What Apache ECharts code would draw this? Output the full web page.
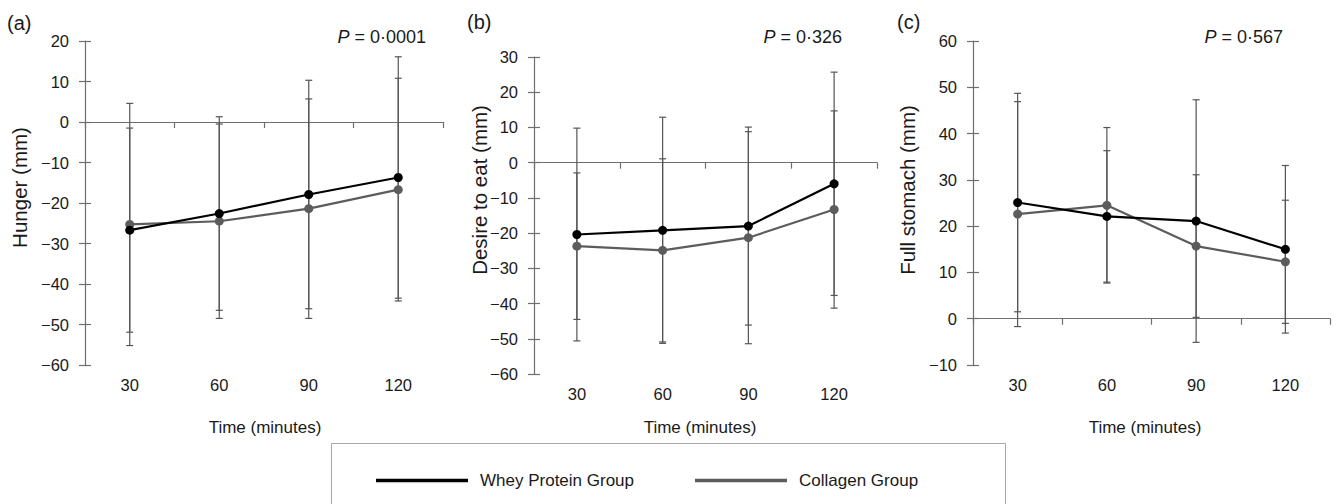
<!DOCTYPE html>
<html>
<head>
<meta charset="utf-8">
<style>
  html, body { margin: 0; padding: 0; background: #ffffff; }
  #chart { width: 1336px; height: 504px; }
</style>
<script src="https://cdn.jsdelivr.net/npm/echarts@6/dist/echarts.min.js"></script>
</head>
<body>
<div id="chart"></div>
<script>
// ---- data ----
const categories = ['30', '60', '90', '120'];

const hungerWhey = [-26.7, -22.6, -17.9, -13.7];
const hungerWheySD = [25.2, 23.9, 28.2, 29.8];
const hungerCollagen = [-25.3, -24.5, -21.4, -16.7];
const hungerCollagenSD = [29.9, 24.0, 27.1, 27.5];

const desireWhey = [-20.4, -19.2, -18.0, -6.0];
const desireWheySD = [30.2, 32.1, 28.1, 31.7];
const desireCollagen = [-23.7, -24.9, -21.3, -13.3];
const desireCollagenSD = [20.8, 26.0, 30.1, 28.0];

const fullWhey = [25.1, 22.1, 21.1, 15.0];
const fullWheySD = [23.6, 14.2, 26.2, 18.1];
const fullCollagen = [22.6, 24.5, 15.7, 12.3];
const fullCollagenSD = [24.3, 16.8, 15.4, 13.3];

const seriesNames = ['Whey Protein Group', 'Collagen Group'];
const panelLetters = ['(a)', '(b)', '(c)'];
const pValues = ['0·0001', '0·326', '0·567'];
const yNames = ['Hunger (mm)', 'Desire to eat (mm)', 'Full stomach (mm)'];
const xName = 'Time (minutes)';
const yRanges = [[-60, 20], [-60, 30], [-10, 60]];

// ---- styles ----
const FONT = "'Liberation Sans', Arial, Helvetica, sans-serif";
const TXT = '#1a1a1a';
const AXIS = '#6e6e6e';
const WHEY = '#000000';
const COLL = '#5c5c5c';
const ERR = '#555555';

const panels = [
  { whey: hungerWhey, wsd: hungerWheySD, coll: hungerCollagen, csd: hungerCollagenSD,
    grid: { left: 85, top: 41, width: 358, height: 324 }, yName: [19, 187.5], letter: [7, 23], pRight: 426, timeX: 265 },
  { whey: desireWhey, wsd: desireWheySD, coll: desireCollagen, csd: desireCollagenSD,
    grid: { left: 534, top: 57, width: 343, height: 317 }, yName: [479, 190], letter: [467, 22], pRight: 842, timeX: 700 },
  { whey: fullWhey, wsd: fullWheySD, coll: fullCollagen, csd: fullCollagenSD,
    grid: { left: 973, top: 41, width: 357, height: 324 }, yName: [907, 190], letter: [897, 22], pRight: 1283, timeX: 1145 }
];

function errorData(mean, sd) {
  return mean.map((m, i) => [i, m - sd[i], m + sd[i]]);
}

function renderErr(params, api) {
  const x = api.value(0);
  const p1 = api.coord([x, api.value(2)]);
  const p2 = api.coord([x, api.value(1)]);
  const w = 3.5;
  const st = { stroke: ERR, lineWidth: 1.2 };
  return {
    type: 'group',
    children: [
      { type: 'line', shape: { x1: p1[0], y1: p1[1], x2: p2[0], y2: p2[1] }, style: st },
      { type: 'line', shape: { x1: p1[0] - w, y1: p1[1], x2: p1[0] + w, y2: p1[1] }, style: st },
      { type: 'line', shape: { x1: p2[0] - w, y1: p2[1], x2: p2[0] + w, y2: p2[1] }, style: st }
    ]
  };
}

const grids = [], xAxes = [], yAxes = [], series = [], graphics = [];

panels.forEach((p, k) => {
  grids.push(Object.assign({ containLabel: false }, p.grid));
  // axis line at zero with boundary ticks
  xAxes.push({
    type: 'category', gridIndex: k, data: categories, boundaryGap: true,
    axisLine: { show: true, onZero: true, lineStyle: { color: AXIS, width: 1.2 } },
    axisTick: { show: true, interval: 0, length: 6, lineStyle: { color: AXIS, width: 1.2 } },
    axisLabel: { show: false }, splitLine: { show: false }
  });
  // labels at bottom
  xAxes.push({
    type: 'category', gridIndex: k, data: categories, boundaryGap: true, position: 'bottom',
    axisLine: { show: false, onZero: false }, axisTick: { show: false },
    axisLabel: { show: true, margin: 11, fontSize: 16.5, fontFamily: FONT, color: TXT },
    splitLine: { show: false }
  });
  const [mn, mx] = yRanges[k];
  yAxes.push({
    type: 'value', gridIndex: k, min: mn, max: mx, interval: 10,
    axisLine: { show: true, onZero: false, lineStyle: { color: AXIS, width: 1.2 } },
    axisTick: { show: true, length: 6, lineStyle: { color: AXIS, width: 1.2 } },
    axisLabel: { margin: 16, fontSize: 16.5, fontFamily: FONT, color: TXT,
      formatter: v => (v < 0 ? '\u2212' + Math.abs(v) : String(v)) },
    splitLine: { show: false }
  });
  yAxes.push({
    type: 'value', gridIndex: k, min: mn, max: mx, interval: 10, position: 'left',
    axisLine: { show: false, onZero: false },
    axisTick: { show: true, inside: true, length: 6, lineStyle: { color: AXIS, width: 1.2 } },
    axisLabel: { show: false }, splitLine: { show: false }
  });

  series.push({
    type: 'custom', name: 'errC' + k, xAxisIndex: 2 * k, yAxisIndex: 2 * k,
    renderItem: renderErr, data: errorData(p.coll, p.csd), encode: { x: 0, y: [1, 2] }, z: 1, silent: true
  });
  series.push({
    type: 'custom', name: 'errW' + k, xAxisIndex: 2 * k, yAxisIndex: 2 * k,
    renderItem: renderErr, data: errorData(p.whey, p.wsd), encode: { x: 0, y: [1, 2] }, z: 1, silent: true
  });
  series.push({
    type: 'line', name: seriesNames[1], xAxisIndex: 2 * k, yAxisIndex: 2 * k, data: p.coll,
    color: COLL, symbol: 'circle', symbolSize: 9, showSymbol: true,
    lineStyle: { color: COLL, width: 2.2 }, itemStyle: { color: COLL }, z: 3
  });
  series.push({
    type: 'line', name: seriesNames[0], xAxisIndex: 2 * k, yAxisIndex: 2 * k, data: p.whey,
    color: WHEY, symbol: 'circle', symbolSize: 9, showSymbol: true,
    lineStyle: { color: WHEY, width: 2.2 }, itemStyle: { color: WHEY }, z: 4
  });

  graphics.push({
    type: 'text', x: p.letter[0], y: p.letter[1],
    style: { text: panelLetters[k], fontSize: 20, fontFamily: FONT, fill: TXT, align: 'left', verticalAlign: 'middle' }
  });
  graphics.push({
    type: 'text', x: p.pRight, y: 37,
    style: {
      text: '{i|P} = ' + pValues[k], fontSize: 18, fontFamily: FONT, fill: TXT, align: 'right', verticalAlign: 'middle',
      rich: { i: { fontStyle: 'italic', fontSize: 18, fontFamily: FONT, fill: TXT } }
    }
  });
  graphics.push({
    type: 'text', x: p.yName[0], y: p.yName[1], rotation: Math.PI / 2,
    style: { text: yNames[k], fontSize: 20.5, fontFamily: FONT, fill: TXT, align: 'center', verticalAlign: 'middle' }
  });
  graphics.push({
    type: 'text', x: p.timeX, y: 427,
    style: { text: xName, fontSize: 17, fontFamily: FONT, fill: TXT, align: 'center', verticalAlign: 'middle' }
  });
});

graphics.push({
  type: 'rect', shape: { x: 331.5, y: 443.5, width: 674, height: 80 },
  style: { fill: 'none', stroke: '#a8a8a8', lineWidth: 1 }, z: 0
});

const option = {
  animation: false,
  backgroundColor: '#ffffff',
  grid: grids,
  xAxis: xAxes,
  yAxis: yAxes,
  series: series,
  legend: {
    data: seriesNames,
    left: 371, top: 467,
    icon: 'rect', itemWidth: 92, itemHeight: 3.5, itemGap: 61,
    textStyle: { fontSize: 17, fontFamily: FONT, color: TXT, padding: [0, 0, 0, 7] },
    selectedMode: false
  },
  graphic: graphics
};

const chart = echarts.init(document.getElementById('chart'), null, { renderer: 'svg' });
chart.setOption(option);
</script>
</body>
</html>
